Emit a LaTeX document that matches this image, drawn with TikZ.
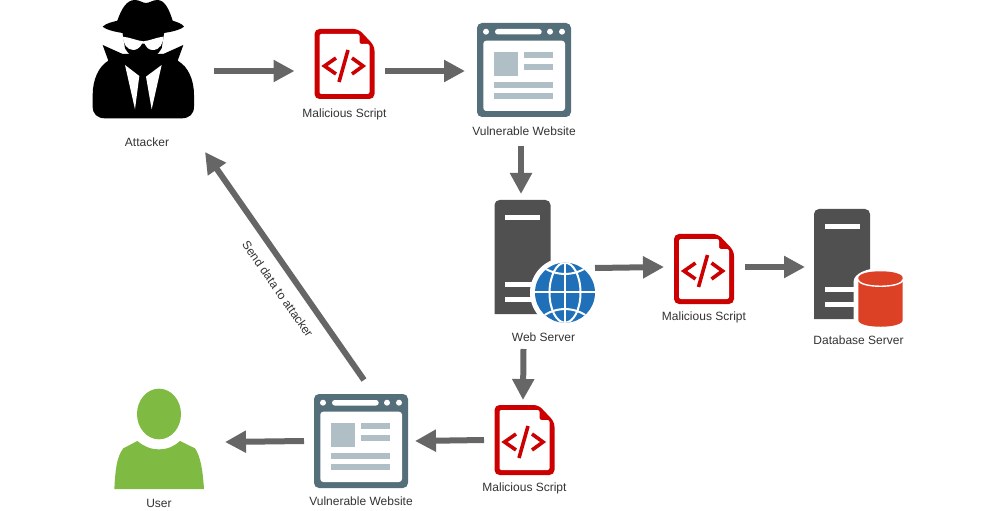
\documentclass[tikz,border=0pt]{standalone}
\usepackage{fontspec}
\setmainfont{Liberation Sans}
\usepackage{xcolor}
\usepackage{tikz}
\usetikzlibrary{positioning, arrows.meta}
\definecolor{flowgray}{HTML}{666666}
\definecolor{lblgray}{HTML}{333333}
\definecolor{scriptred}{HTML}{CC0000}
\definecolor{webslate}{HTML}{546E7A}
\definecolor{webpale}{HTML}{B0BEC5}
\definecolor{srvgray}{HTML}{505050}
\definecolor{globeblue}{HTML}{1F70B9}
\definecolor{dbred}{HTML}{DD4125}
\definecolor{usergreen}{HTML}{7FBA42}

\begin{document}
\begin{tikzpicture}[
  x=1pt, y=-1pt,
  font=\fontsize{12}{14}\selectfont,
  iconbox/.style={inner sep=0pt, outer sep=0pt, minimum width=#1, minimum height=#1},
  lbl/.style={text=lblgray, inner sep=0pt, text height=9pt, text depth=3pt},
  flow/.style={draw=flowgray, line width=6pt, -{Triangle[length=21pt,width=21pt]}},
  pics/scripticon/.style={code={
    \fill[scriptred, rounded corners=5pt] (-30,-35) -- (14,-35) -- (30,-18) -- (30,35) -- (-30,35) -- cycle;
    \fill[white, rounded corners=2pt] (-25,-30) -- (15,-30) -- (15,-20) -- (25,-20) -- (25,30) -- (-25,30) -- cycle;
    \draw[scriptred, line width=3.6pt] (-8.5,-6) -- (-20,2) -- (-8.5,10);
    \draw[scriptred, line width=3.6pt] (7.5,-6) -- (18.5,2) -- (7.5,10);
    \draw[scriptred, line width=3.6pt] (3.5,-14) -- (-5.5,18);
  }},
  pics/webicon/.style={code={
    \fill[webslate, rounded corners=5pt] (-47,-47) rectangle (47,47);
    \fill[white] (-38,-38.3) circle (3) (26,-38.3) circle (3) (38,-38.3) circle (3);
    \fill[white, rounded corners=2.7pt] (-29,-41) rectangle (17.7,-35.5);
    \fill[white, rounded corners=3pt] (-40.7,-29.3) rectangle (41,41);
    \fill[webpale] (-29.7,-17.7) rectangle (-5.7,6);
    \fill[webpale] (0,-17.7) rectangle (29.3,-11.7);
    \fill[webpale] (0,-5.7) rectangle (29.3,0);
    \fill[webpale] (-29.7,12) rectangle (29.3,17.7);
    \fill[webpale] (-29.7,23.3) rectangle (29.3,29.3);
  }},
  pics/srvicon/.style={code={
    \fill[srvgray, rounded corners=5pt] (-28,#1) -- (-28,0) -- (28,0) -- (28,#1) [sharp corners] -- cycle;
    \fill[white] (-17.5,15) rectangle (17.5,20);
    \fill[white] (-17.5,{#1-32}) rectangle (17.5,{#1-27});
    \fill[white] (-17.5,{#1-17}) rectangle (17.5,{#1-12});
  }},
  pics/globeicon/.style={code={
    \fill[white] (0,0) circle (35);
    \fill[globeblue] (0,0) circle (30);
    \begin{scope}
      \clip (0,0) circle (30);
      \draw[white, line width=2pt] (0,-30) -- (0,30) (-30,-1) -- (30,-1);
      \draw[white, line width=2pt] (0,0) ellipse (15.5 and 30);
      \draw[white, line width=2pt] (-24,-27) .. controls (-10,-16) and (10,-16) .. (24,-27);
      \draw[white, line width=2pt] (-24,25) .. controls (-10,13.5) and (10,13.5) .. (24,25);
    \end{scope}
  }},
  pics/cylicon/.style={code={
    \fill[white] (-27,-17) .. controls (-27,-26) and (-12,-31) .. (0,-31) .. controls (12,-31) and (27,-26) .. (27,-17) -- (27,32) -- (-27,32) -- cycle;
    \fill[dbred] (-22.2,-21) -- (-22.2,21) .. controls (-22.2,30) and (22.2,30) .. (22.2,21) -- (22.2,-21) .. controls (22.2,-30) and (-22.2,-30) .. (-22.2,-21) -- cycle;
    \draw[white, line width=1.4pt] (-22.2,-19.5) .. controls (-22.2,-10.5) and (22.2,-10.5) .. (22.2,-19.5);
  }},
  pics/spyicon/.style={code={
    % traced at three times the size
    \begin{scope}[scale=1/3]
      \fill (68,80) .. controls (80,68) and (100,66) .. (112,62) .. controls (125,25) and (140,0) .. (165,0)
        .. controls (178,0) and (188,9) .. (198,9) .. controls (208,9) and (218,0) .. (232,0)
        .. controls (255,0) and (268,30) .. (278,62) .. controls (290,66) and (305,70) .. (312,80)
        .. controls (295,95) and (240,103) .. (190,103) .. controls (140,103) and (85,95) .. (68,80) -- cycle;
      \fill (127,95) -- (253,95) -- (245,145) .. controls (235,165) and (215,178) .. (190,178)
        .. controls (165,178) and (145,165) .. (135,145) -- cycle;
      \fill (68,135) -- (128,162) -- (250,162) -- (310,135) -- (293,182)
        .. controls (325,200) and (342,240) .. (342,285) -- (342,320) .. controls (342,342) and (328,355) .. (305,355)
        -- (75,355) .. controls (52,355) and (38,342) .. (38,320) -- (38,285)
        .. controls (38,240) and (55,200) .. (85,182) -- cycle;
      \fill[white] (128,110) .. controls (150,112) and (170,122) .. (190,124) .. controls (210,122) and (230,112) .. (250,110)
        .. controls (250,130) and (240,150) .. (218,150) .. controls (205,150) and (198,140) .. (194,131)
        -- (186,131) .. controls (182,140) and (172,150) .. (160,150) .. controls (140,150) and (130,130) .. (128,110) -- cycle;
      \fill[white] (135,195) -- (178,228) -- (165,328) -- cycle;
      \fill[white] (245,195) -- (198,230) -- (215,328) -- cycle;
    \end{scope}
  }},
  pics/usericon/.style={code={
    \begin{scope}[scale=1/3]
      \fill[usergreen] (177,102) ellipse (66 and 76);
      \fill[usergreen] (43,327) .. controls (46,270) and (50,230) .. (70,205) -- (112,183)
        .. controls (130,198) and (150,208) .. (177,208) .. controls (204,208) and (224,198) .. (240,183)
        -- (285,205) .. controls (302,230) and (308,270) .. (312,327) -- cycle;
    \end{scope}
  }},
]
  % Icons
  \node[iconbox=119pt, minimum width=101pt] (attacker) at (143.5,59.5) {};
  \pic at (80,0) {spyicon};
  \node[iconbox=70pt, minimum width=60pt] (scripta) at (344.5,64) {};
  \pic at (scripta) {scripticon};
  \node[iconbox=94pt] (weba) at (524,70) {};
  \pic at (weba) {webicon};
  \node[iconbox=114pt, minimum width=56pt] (websrv) at (522.5,257) {};
  \pic at (websrv.north) {srvicon=114};
  \node[iconbox=60pt] (globe) at (565,292.7) {};
  \pic at (globe) {globeicon};
  \node[iconbox=70pt, minimum width=60pt] (scriptb) at (704,269) {};
  \pic at (scriptb) {scripticon};
  \node[iconbox=110pt, minimum width=56pt] (dbsrv) at (842,264) {};
  \pic at (dbsrv.north) {srvicon=110};
  \node[iconbox=55pt, minimum width=44pt] (dbcyl) at (880.5,299) {};
  \pic at (dbcyl) {cylicon};
  \node[iconbox=70pt, minimum width=60pt] (scriptc) at (524.5,440) {};
  \pic at (scriptc) {scripticon};
  \node[iconbox=94pt] (webb) at (361,441) {};
  \pic at (webb) {webicon};
  \node[iconbox=100pt, minimum width=90pt] (person) at (159,439) {};
  \pic at (100,380) {usericon};

  % Labels
  \node[lbl, below=18pt of attacker, xshift=3.5pt] (attackerlbl) {Attacker};
  \node[lbl, below=9pt of scripta] (scriptalbl) {Malicious Script};
  \node[lbl, below=9pt of weba] (webalbl) {Vulnerable Website};
  \node[lbl, below=18pt of websrv, xshift=21pt] (websrvlbl) {Web Server};
  \node[lbl, below=7pt of scriptb] (scriptblbl) {Malicious Script};
  \node[lbl, below=16pt of dbsrv, xshift=16.5pt] (dbsrvlbl) {Database Server};
  \node[lbl, below=7pt of scriptc] (scriptclbl) {Malicious Script};
  \node[lbl, below=8pt of webb] (webblbl) {Vulnerable Website};
  \node[lbl, below=9pt of person] (personlbl) {User};

  % Flow
  \draw[flow] ([xshift=20pt,yshift=-11.5pt]attacker.east) -- ([xshift=-20pt,yshift=-7pt]scripta.west);
  \draw[flow] ([xshift=10.5pt,yshift=-7pt]scripta.east) -- ([xshift=-12pt,yshift=-1pt]weba.west);
  \draw[flow] ([xshift=-3pt,yshift=-29pt]weba.south) -- ([xshift=-1.5pt,yshift=6pt]websrv.north);
  \draw[flow] ([xshift=0pt,yshift=24.7pt]globe.east) -- ([xshift=-10pt,yshift=2pt]scriptb.west);
  \draw[flow] ([xshift=11pt,yshift=2pt]scriptb.east) -- ([xshift=-9pt,yshift=-3pt]dbsrv.west);
  \draw[flow] ([xshift=1pt,yshift=-35pt]websrv.south) -- ([xshift=-1.5pt,yshift=5pt]scriptc.north);
  \draw[flow] ([xshift=-10.5pt,yshift=0pt]scriptc.west) -- ([xshift=7pt,yshift=0pt]webb.east);
  \draw[flow] ([xshift=-10pt,yshift=0pt]webb.west) -- ([xshift=21pt,yshift=-3pt]person.east);
  \draw[flow] ([xshift=3pt,yshift=14pt]webb.north) -- node[lbl, sloped, pos=.446, below=11pt] (sendlbl) {Send data to attacker} ([xshift=61.5pt,yshift=-33pt]attacker.south);

  \useasboundingbox (0,0) rectangle (1000,509);
\end{tikzpicture}
\end{document}
